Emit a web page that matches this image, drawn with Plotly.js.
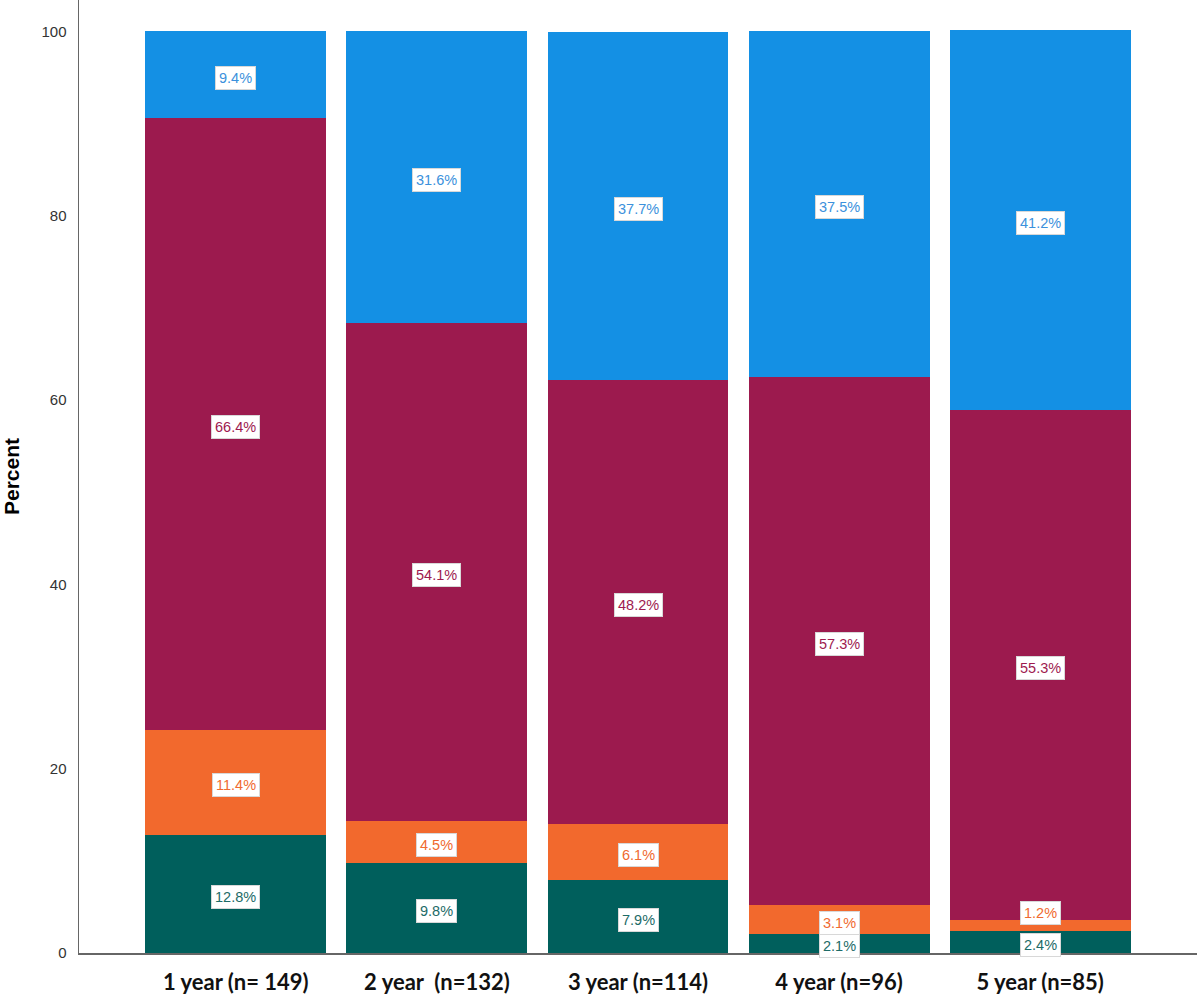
<!DOCTYPE html>
<html>
<head>
<meta charset="utf-8">
<script src="https://cdn.plot.ly/plotly-3.0.1.min.js"></script>
<style>html,body{margin:0;padding:0;background:#fff;}#chart{width:1200px;height:999px;}</style>
</head>
<body>
<div id="chart"></div>
<script>
// ---- data ----
var categories = ["1 year (n= 149)", "2 year\u00A0 (n=132)", "3 year (n=114)", "4 year (n=96)", "5 year (n=85)"];
var seriesNames = ["Teal", "Orange", "Maroon", "Blue"];
var tealValues   = [12.8, 9.8, 7.9, 2.1, 2.4];
var orangeValues = [11.4, 4.5, 6.1, 3.1, 1.2];
var maroonValues = [66.4, 54.1, 48.2, 57.3, 55.3];
var blueValues   = [9.4, 31.6, 37.7, 37.5, 41.2];
var yTickValues  = [0, 20, 40, 60, 80, 100];

// ---- styling ----
var allValues = [tealValues, orangeValues, maroonValues, blueValues];
var fillColors = ["#005f5c", "#f2692d", "#9c1a4e", "#1490e4"];
var textColors = ["#1d6b67", "#f06a30", "#9e1a4f", "#3b91dc"];
// small label nudges (px) to avoid overlaps, as in the original
var nudges = {"1-3": -4, "1-4": 12};

var traces = allValues.map(function (vals, i) {
  return {
    type: "bar",
    name: seriesNames[i],
    x: categories,
    y: vals,
    marker: {color: fillColors[i], line: {width: 0}},
    hoverinfo: "skip"
  };
});

var annotations = [];
categories.forEach(function (cat, c) {
  var base = 0;
  allValues.forEach(function (vals, s) {
    var v = vals[c];
    var key = s + "-" + c;
    annotations.push({
      x: cat, y: base + v / 2, xref: "x", yref: "y",
      text: v.toFixed(1) + "%",
      showarrow: false,
      font: {family: "Liberation Sans, Arial, sans-serif", size: 14.5, color: textColors[s]},
      bgcolor: "#ffffff",
      bordercolor: "#d8d8d8",
      borderwidth: 1,
      borderpad: 3,
      yshift: (nudges[key] !== undefined ? nudges[key] : -3)
    });
    base += v;
  });
});

var layout = {
  width: 1200, height: 999,
  margin: {l: 79, r: 3, t: 0, b: 46},
  paper_bgcolor: "#ffffff",
  plot_bgcolor: "#ffffff",
  barmode: "stack",
  bargap: 0.1,
  showlegend: false,
  xaxis: {
    type: "category",
    range: [-0.78, 4.78],
    showline: true, linecolor: "#666666", linewidth: 1.5,
    showgrid: false, zeroline: false, ticks: "",
    tickfont: {family: "Lato, Open Sans, sans-serif", size: 22, color: "#111111", weight: "bold"},
    ticklabelstandoff: 9
  },
  yaxis: {
    range: [0, 103.4],
    tickvals: yTickValues,
    showline: true, linecolor: "#666666", linewidth: 1.5,
    showgrid: false, zeroline: false, ticks: "",
    tickfont: {family: "Liberation Sans, Arial, sans-serif", size: 15, color: "#333333"},
    ticklabelstandoff: 8,
    title: {text: "Percent", font: {family: "Liberation Sans, Arial, sans-serif", size: 21, color: "#000000", weight: "bold"}, standoff: 16}
  },
  annotations: annotations
};

Plotly.newPlot("chart", traces, layout, {displayModeBar: false, staticPlot: true});
</script>
</body>
</html>
